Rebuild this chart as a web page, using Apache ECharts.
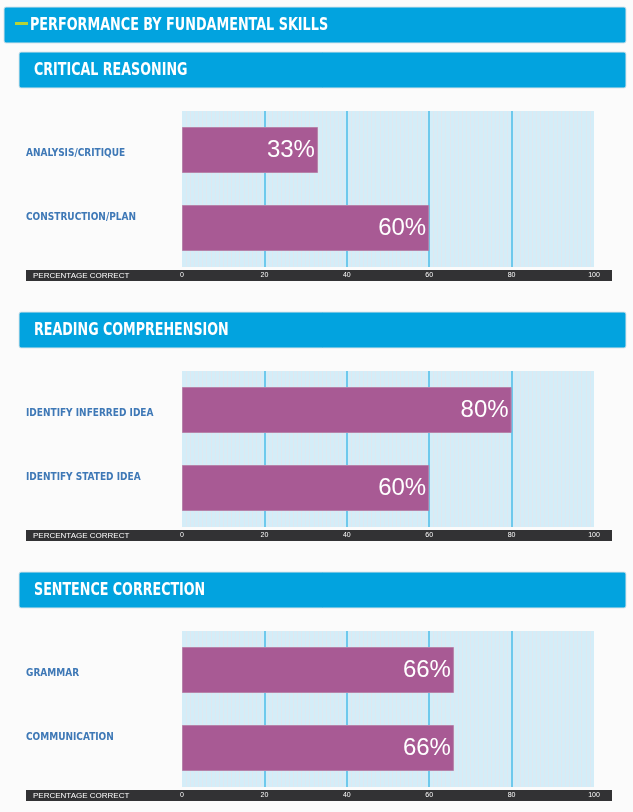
<!DOCTYPE html>
<html>
<head>
<meta charset="utf-8">
<script src="https://cdn.jsdelivr.net/npm/echarts@6/dist/echarts.min.js"></script>
<style>
  html, body { margin: 0; padding: 0; background: #fbfbfb; }
  #chart { width: 633px; height: 812px; }
</style>
</head>
<body>
<div id="chart"></div>
<script type="text/javascript">
	// data
	var mainTitle = 'PERFORMANCE BY FUNDAMENTAL SKILLS';
	var sectionNames = ['CRITICAL REASONING', 'READING COMPREHENSION', 'SENTENCE CORRECTION'];
	var criticalCats = ['ANALYSIS/CRITIQUE', 'CONSTRUCTION/PLAN'];
	var criticalVals = [33, 60];
	var readingCats = ['IDENTIFY INFERRED IDEA', 'IDENTIFY STATED IDEA'];
	var readingVals = [80, 60];
	var sentenceCats = ['GRAMMAR', 'COMMUNICATION'];
	var sentenceVals = [66, 66];
	var axisName = 'PERCENTAGE CORRECT';

	var sections = [
		{cats: criticalCats, vals: criticalVals},
		{cats: readingCats, vals: readingVals},
		{cats: sentenceCats, vals: sentenceVals}
	];

	var BLUE = '#02a3df';
	var condensed = "'DejaVu Sans Condensed', 'Liberation Sans', sans-serif";
	var STEP = 260;

	var grids = [], xAxes = [], yAxes = [], series = [];
	var graphics = [
		{type: 'rect', z: -1, shape: {x: 4, y: 7, width: 622, height: 36, r: 2}, style: {fill: BLUE, stroke: '#d8e4ea', lineWidth: 1}},
		{type: 'rect', shape: {x: 15, y: 22, width: 13, height: 3}, style: {fill: '#b6d336'}},
		// condensed title look: squeeze the text horizontally
		{type: 'text', x: 30, y: 25.5, scaleX: 0.79, style: {text: mainTitle, fill: '#fff', font: "bold 18px " + condensed, textVerticalAlign: 'middle'}}
	];

	for (var i = 0; i < sections.length; i++) {
		var off = i * STEP;
		graphics.push({type: 'rect', z: -1, shape: {x: 19, y: 52 + off, width: 607, height: 36, r: 2}, style: {fill: BLUE, stroke: '#dde6ea', lineWidth: 1}});
		graphics.push({type: 'text', x: 34, y: 70.5 + off, scaleX: 0.83, style: {text: sectionNames[i], fill: '#fff', font: "bold 17px " + condensed, textVerticalAlign: 'middle'}});
		graphics.push({type: 'rect', z: -1, shape: {x: 26, y: 270 + off, width: 586, height: 11}, style: {fill: '#323234'}});
		graphics.push({type: 'text', x: 33, y: 275.5 + off, style: {text: axisName, fill: '#fff', font: "8px 'Liberation Sans', sans-serif", textVerticalAlign: 'middle'}});
		grids.push({left: 182, width: 412, top: 111 + off, height: 156, show: true, backgroundColor: '#d4edf8', borderWidth: 0});
		xAxes.push({
			type: 'value', gridIndex: i, min: 0, max: 100, interval: 20,
			axisLine: {show: false}, axisTick: {show: false},
			axisLabel: {color: '#fff', fontSize: 7, margin: 4.5, fontFamily: 'Liberation Sans'},
			splitLine: {show: true, showMinLine: false, showMaxLine: false, lineStyle: {color: '#4dbde9', width: 1.5}},
			minorTick: {show: false, splitNumber: 20},
			minorSplitLine: {show: true, lineStyle: {color: '#e2e6ee', width: 0.8}}
		});
		yAxes.push({
			type: 'category', gridIndex: i, data: sections[i].cats, inverse: true,
			axisLine: {show: false}, axisTick: {show: false},
			axisLabel: {
				align: 'left', margin: 156,
				formatter: function (v, idx) { return idx === 0 ? '{a|' + v + '}' : '{b|' + v + '}'; },
				rich: {
					a: {color: '#3e78b6', fontSize: 10, fontWeight: 'bold', fontFamily: condensed, padding: [6, 0, 0, 0]},
					b: {color: '#3e78b6', fontSize: 10, fontWeight: 'bold', fontFamily: condensed, padding: [0, 0, 22, 0]}
				}
			}
		});
		series.push({
			type: 'bar', xAxisIndex: i, yAxisIndex: i, data: sections[i].vals, barWidth: 46, z: 5,
			itemStyle: {color: '#a85a94', borderColor: '#b683aa', borderWidth: 1},
			label: {show: true, position: 'insideRight', distance: 3, formatter: '{c}%', color: '#fff', fontSize: 24,
				fontFamily: 'Liberation Sans', textBorderWidth: 0}
		});
	}

	var myChart = echarts.init(document.getElementById('chart'));
	myChart.setOption({
		backgroundColor: '#fbfbfb',
		animation: false,
		graphic: graphics,
		grid: grids,
		xAxis: xAxes,
		yAxis: yAxes,
		series: series
	});
</script>
</body>
</html>
